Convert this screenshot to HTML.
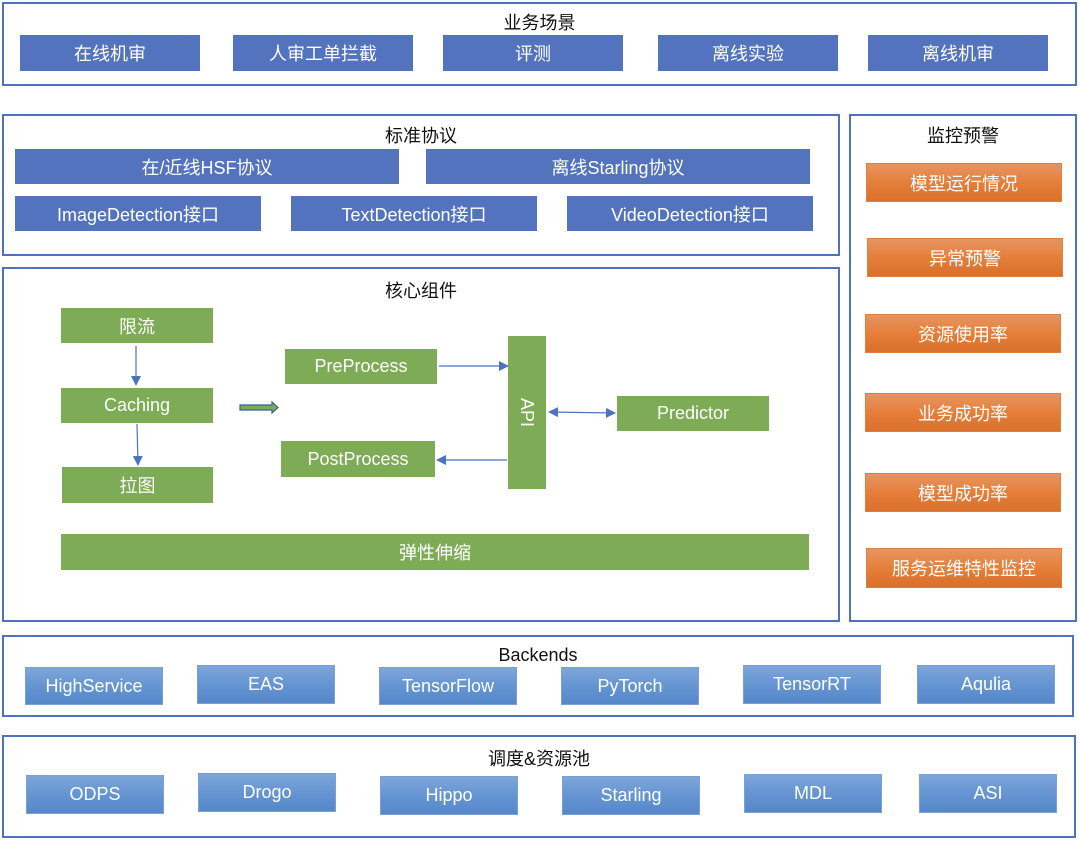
<!DOCTYPE html>
<html><head><meta charset="utf-8"><style>
body{margin:0;width:1079px;height:841px;background:#fff;position:relative;overflow:hidden;font-family:"Liberation Sans","Noto Sans CJK SC",sans-serif}
.f{position:absolute;border:2px solid #4f72c0;box-sizing:border-box}
.t{position:absolute;font-size:18px;color:#111;text-align:center;white-space:nowrap}
.b{position:absolute;display:flex;align-items:center;justify-content:center;color:#fff;font-size:18px;white-space:nowrap;box-sizing:border-box}
.bl{background:#5373bf}
.g{background:#7eab55}
.o{background:linear-gradient(#e69562,#e57f3a 50%,#d9702c);border:1px solid #e0803f}
.s{background:linear-gradient(#7ea5d9,#6595d2 50%,#5587c9);border:1px solid #7aa0d4}
</style></head><body>
<div class="f" style="left:2px;top:2px;width:1075px;height:84px"></div>
<div class="t" style="left:2px;width:1075px;top:9px">业务场景</div>
<div class="b bl" style="left:20px;top:35px;width:180px;height:36px">在线机审</div>
<div class="b bl" style="left:233px;top:35px;width:180px;height:36px">人审工单拦截</div>
<div class="b bl" style="left:443px;top:35px;width:180px;height:36px">评测</div>
<div class="b bl" style="left:658px;top:35px;width:180px;height:36px">离线实验</div>
<div class="b bl" style="left:868px;top:35px;width:180px;height:36px">离线机审</div>

<div class="f" style="left:2px;top:114px;width:838px;height:142px"></div>
<div class="t" style="left:2px;width:838px;top:122px">标准协议</div>
<div class="b bl" style="left:15px;top:149px;width:384px;height:35px">在/近线HSF协议</div>
<div class="b bl" style="left:426px;top:149px;width:384px;height:35px">离线Starling协议</div>
<div class="b bl" style="left:15px;top:196px;width:246px;height:35px">ImageDetection接口</div>
<div class="b bl" style="left:291px;top:196px;width:246px;height:35px">TextDetection接口</div>
<div class="b bl" style="left:567px;top:196px;width:246px;height:35px">VideoDetection接口</div>

<div class="f" style="left:2px;top:267px;width:838px;height:355px"></div>
<div class="t" style="left:2px;width:838px;top:277px">核心组件</div>
<div class="b g" style="left:61px;top:308px;width:152px;height:35px">限流</div>
<div class="b g" style="left:61px;top:388px;width:152px;height:35px">Caching</div>
<div class="b g" style="left:62px;top:467px;width:151px;height:36px">拉图</div>
<div class="b g" style="left:285px;top:349px;width:152px;height:35px">PreProcess</div>
<div class="b g" style="left:281px;top:441px;width:154px;height:36px">PostProcess</div>
<div class="b g" style="left:508px;top:336px;width:38px;height:153px"><span style="transform:rotate(90deg);display:inline-block">API</span></div>
<div class="b g" style="left:617px;top:396px;width:152px;height:35px">Predictor</div>
<div class="b g" style="left:61px;top:534px;width:748px;height:36px">弹性伸缩</div>
<svg style="position:absolute;left:0;top:0" width="1079" height="841">
<defs><marker id="a" markerWidth="10" markerHeight="10" refX="9" refY="5" orient="auto" markerUnits="userSpaceOnUse"><path d="M0,0 L10,5 L0,10 z" fill="#4f72c0"/></marker>
<marker id="a2" markerWidth="10" markerHeight="10" refX="1" refY="5" orient="auto" markerUnits="userSpaceOnUse"><path d="M10,0 L0,5 L10,10 z" fill="#4f72c0"/></marker></defs>
<g stroke="#4f72c0" stroke-width="1.2" fill="none">
<line x1="136" y1="346" x2="136" y2="385" marker-end="url(#a)"/>
<line x1="137" y1="424" x2="138" y2="465" marker-end="url(#a)"/>
<line x1="439" y1="366" x2="508" y2="366" marker-end="url(#a)"/>
<line x1="507" y1="460" x2="437" y2="460" marker-end="url(#a)"/>
<line x1="549" y1="412" x2="615" y2="413" marker-end="url(#a)" marker-start="url(#a2)"/>
</g>
<path d="M240,405 L272,405 L272,402 L278,407.5 L272,413 L272,410 L240,410 z" fill="#7eab55" stroke="#3b5fa8" stroke-width="1.2"/>
</svg>

<div class="f" style="left:849px;top:114px;width:228px;height:508px"></div>
<div class="t" style="left:849px;width:228px;top:122px">监控预警</div>
<div class="b o" style="left:866px;top:163px;width:196px;height:39px">模型运行情况</div>
<div class="b o" style="left:867px;top:238px;width:196px;height:39px">异常预警</div>
<div class="b o" style="left:865px;top:314px;width:196px;height:39px">资源使用率</div>
<div class="b o" style="left:865px;top:393px;width:196px;height:39px">业务成功率</div>
<div class="b o" style="left:865px;top:473px;width:196px;height:39px">模型成功率</div>
<div class="b o" style="left:866px;top:548px;width:196px;height:40px">服务运维特性监控</div>

<div class="f" style="left:2px;top:635px;width:1072px;height:82px"></div>
<div class="t" style="left:2px;width:1072px;top:645px">Backends</div>
<div class="b s" style="left:25px;top:667px;width:138px;height:38px">HighService</div>
<div class="b s" style="left:197px;top:665px;width:138px;height:39px">EAS</div>
<div class="b s" style="left:379px;top:667px;width:138px;height:38px">TensorFlow</div>
<div class="b s" style="left:561px;top:667px;width:138px;height:38px">PyTorch</div>
<div class="b s" style="left:743px;top:665px;width:138px;height:39px">TensorRT</div>
<div class="b s" style="left:917px;top:665px;width:138px;height:39px">Aqulia</div>

<div class="f" style="left:2px;top:735px;width:1074px;height:103px"></div>
<div class="t" style="left:2px;width:1074px;top:745px">调度&amp;资源池</div>
<div class="b s" style="left:26px;top:775px;width:138px;height:39px">ODPS</div>
<div class="b s" style="left:198px;top:773px;width:138px;height:39px">Drogo</div>
<div class="b s" style="left:380px;top:776px;width:138px;height:39px">Hippo</div>
<div class="b s" style="left:562px;top:776px;width:138px;height:39px">Starling</div>
<div class="b s" style="left:744px;top:774px;width:138px;height:39px">MDL</div>
<div class="b s" style="left:919px;top:774px;width:138px;height:39px">ASI</div>
</body></html>
